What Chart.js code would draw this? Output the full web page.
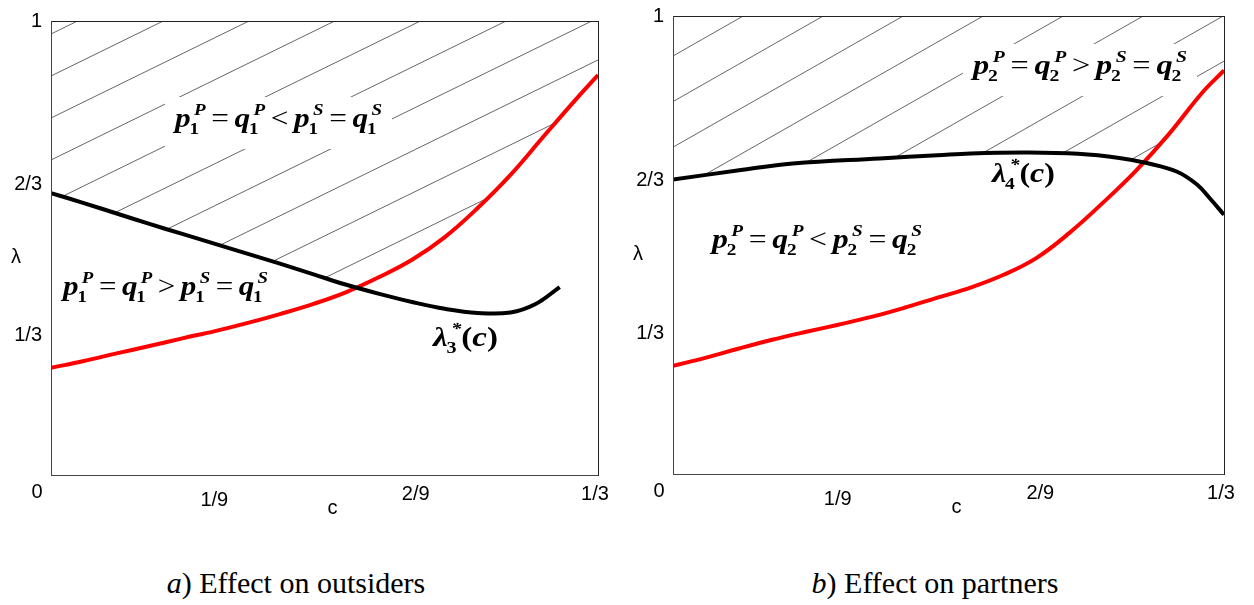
<!DOCTYPE html>
<html>
<head>
<meta charset="utf-8">
<script src="https://cdn.jsdelivr.net/npm/chart.js@4.4.1/dist/chart.umd.min.js"></script>
<style>
  body { margin: 0; background: #fff; width: 1254px; height: 605px; position: relative; overflow: hidden; }
  canvas { position: absolute; top: 0; }
  #chartA { left: 0; }
  #chartB { left: 627px; }
  .caption { position: absolute; top: 566px; font-family: "Liberation Serif", serif; font-size: 30px; color: #000; white-space: nowrap; transform: translateX(-50%); }
</style>
</head>
<body>
<canvas id="chartA" width="627" height="540"></canvas>
<canvas id="chartB" width="627" height="540"></canvas>
<div class="caption" style="left:296px"><i>a</i>) Effect on outsiders</div>
<div class="caption" style="left:935px"><i>b</i>) Effect on partners</div>

<script>
// ticks
const xTicks = [0, 1/9, 2/9, 1/3];
const xTickLabels = ["0", "1/9", "2/9", "1/3"];
const yTicks = [1/3, 2/3, 1];
const yTickLabels = ["1/3", "2/3", "1"];

// a) outsiders
const cRedA = [0, 0.02, 0.04, 0.06, 0.08, 0.10, 0.12, 0.14, 0.16, 0.18, 0.20, 0.22, 0.24, 0.26, 0.28, 0.30, 0.32, 1/3];
const redA = [0.236, 0.251, 0.268, 0.284, 0.301, 0.317, 0.335, 0.355, 0.377, 0.403, 0.436, 0.474, 0.524, 0.588, 0.661, 0.745, 0.828, 0.881];
const cBlackA = [0, 0.02, 0.04, 0.06, 0.08, 0.10, 0.12, 0.14, 0.16, 0.18, 0.20, 0.22, 0.24, 0.26, 0.28, 0.295, 0.31];
const blackA = [0.621, 0.599, 0.576, 0.553, 0.531, 0.509, 0.487, 0.465, 0.442, 0.419, 0.399, 0.381, 0.366, 0.357, 0.358, 0.376, 0.414];

// b) partners
const cRedB = [0, 0.02, 0.04, 0.06, 0.08, 0.10, 0.12, 0.14, 0.16, 0.18, 0.20, 0.22, 0.24, 0.26, 0.28, 0.30, 0.32, 1/3];
const redB = [0.236, 0.254, 0.274, 0.293, 0.310, 0.326, 0.343, 0.363, 0.385, 0.407, 0.435, 0.472, 0.527, 0.592, 0.662, 0.742, 0.832, 0.881];
const cBlackB = [0, 0.04, 0.0725, 0.125, 0.16, 0.18, 0.215, 0.245, 0.27, 0.2865, 0.305, 0.317, 0.325, 1/3];
const blackB = [0.643, 0.663, 0.678, 0.689, 0.696, 0.700, 0.702, 0.699, 0.690, 0.679, 0.660, 0.632, 0.601, 0.566];

const toXY = (xs, ys) => xs.map((x, i) => ({ x, y: ys[i] }));

// fonts for the formulas
const BASE_FONT = 'bold italic 28px "Liberation Serif"';
const UP_FONT = 'bold 28px "Liberation Serif"';
const SUB_FONT = 'bold 17px "Liberation Serif"';
const SUP_FONT = 'bold italic 17px "Liberation Serif"';
const OP_FONT = '28px "Liberation Serif"';
const TICK_FONT = '20px "Liberation Sans"';

function sym(v, i, s) { return { b: v, sub: i, sup: s }; }
function formula(i, rel) {
  return [sym("p", i, "P"), { op: "=" }, sym("q", i, "P"), { op: rel }, sym("p", i, "S"), { op: "=" }, sym("q", i, "S")];
}
function lambdaStar(i) {
  return [sym("λ", i, "*"), { b: "(", up: true }, { b: "c" }, { b: ")", up: true }];
}

function layoutMath(ctx, parts, draw) {
  let cx = 0;
  for (const p of parts) {
    if (p.op) {
      ctx.font = OP_FONT;
      cx += 5;
      if (draw) ctx.fillText(p.op, cx, 0);
      cx += ctx.measureText(p.op).width + 5;
      continue;
    }
    ctx.font = p.up ? UP_FONT : BASE_FONT;
    if (draw) ctx.fillText(p.b, cx, 0);
    cx += ctx.measureText(p.b).width;
    let extra = 0;
    if (p.sub) {
      ctx.font = SUB_FONT;
      if (draw) ctx.fillText(p.sub, cx - 1, 7);
      extra = Math.max(extra, ctx.measureText(p.sub).width - 1);
    }
    if (p.sup) {
      ctx.font = SUP_FONT;
      if (draw) ctx.fillText(p.sup, cx + 3, -12);
      extra = Math.max(extra, ctx.measureText(p.sup).width + 3);
    }
    cx += extra;
  }
  return cx;
}

function drawMath(ctx, parts, x, y, width) {
  ctx.save();
  const natural = layoutMath(ctx, parts, false);
  ctx.translate(x, y);
  ctx.scale(width / natural, 1);
  ctx.fillStyle = "#000";
  ctx.textBaseline = "alphabetic";
  ctx.textAlign = "left";
  layoutMath(ctx, parts, true);
  ctx.restore();
}

// hatching of the upper region + white gaps behind the labels
const hatchPlugin = {
  id: "hatch",
  beforeDraw(chart, args, opts) {
    const { ctx, chartArea: a } = chart;
    const w = a.right - a.left;
    ctx.save();
    ctx.beginPath();
    ctx.rect(a.left, a.top, w, a.bottom - a.top);
    ctx.clip();
    ctx.strokeStyle = "#666";
    ctx.lineWidth = 1;
    ctx.beginPath();
    for (let y = a.top + opts.first - 2 * opts.gap; y < a.bottom + w * opts.slope; y += opts.gap) {
      ctx.moveTo(a.left, y);
      ctx.lineTo(a.right, y - w * opts.slope);
    }
    ctx.stroke();
    ctx.fillStyle = "#fff";
    for (const n of opts.notes) {
      if (!n.box) continue;
      ctx.fillRect(a.left + n.dx - 10, a.top + n.dy - 30, n.width + 20, 52);
    }
    ctx.restore();
  }
};

// tick labels, axis names, formulas
const textPlugin = {
  id: "texts",
  afterDatasetsDraw(chart, args, opts) {
    const { ctx, chartArea: a, scales } = chart;
    ctx.save();
    ctx.fillStyle = "#000";
    ctx.font = TICK_FONT;
    ctx.textBaseline = "middle";
    // nudges as placed in the original figure
    const xNudge = [[-14, 17], [-19, 25], [0, 19], [-3, 19]];
    const yNudge = [12, 12, 0];
    ctx.textAlign = "center";
    xTicks.forEach((v, i) => {
      ctx.fillText(xTickLabels[i], scales.x.getPixelForValue(v) + xNudge[i][0], a.bottom + xNudge[i][1]);
    });
    ctx.textAlign = "right";
    yTicks.forEach((v, i) => {
      ctx.fillText(yTickLabels[i], a.left - 9, scales.y.getPixelForValue(v) + yNudge[i]);
    });
    ctx.textAlign = "center";
    ctx.fillText("λ", a.left - 35, scales.y.getPixelForValue(0.48));
    ctx.fillText("c", (a.left + a.right) / 2 + 8, a.bottom + 33);
    for (const n of opts.notes) {
      drawMath(ctx, n.parts, a.left + n.dx, a.top + n.dy, n.width);
    }
    ctx.restore();
  }
};

function makeChart(id, red, black, padding, hatch, notes) {
  const border = { display: true, color: "#444", width: 1, z: 1 };
  const dashed = { display: true, color: "#222", width: 1, dash: [4, 3], z: 1 };
  const hidden = { display: false, drawTicks: false };
  return new Chart(document.getElementById(id), {
    type: "line",
    data: {
      datasets: [
        {
          data: black,
          borderColor: "#000",
          borderWidth: 4,
          backgroundColor: "#fff",
          fill: "start",
          pointRadius: 0,
          tension: 0.4
        },
        {
          data: red,
          borderColor: "#ff0000",
          borderWidth: 4,
          backgroundColor: "#fff",
          fill: "start",
          pointRadius: 0,
          tension: 0.4
        }
      ]
    },
    options: {
      responsive: false,
      animation: false,
      layout: { padding },
      plugins: {
        legend: { display: false },
        tooltip: { enabled: false },
        filler: { drawTime: "beforeDatasetsDraw" },
        hatch: { ...hatch, notes },
        texts: { notes }
      },
      scales: {
        x: { type: "linear", position: "bottom", min: 0, max: 1/3, grid: hidden, ticks: { display: false }, border },
        x2: { type: "linear", position: "top", min: 0, max: 1/3, grid: hidden, ticks: { display: false }, border: dashed },
        y: { type: "linear", position: "left", min: 0, max: 1, grid: hidden, ticks: { display: false }, border },
        y2: { type: "linear", position: "right", min: 0, max: 1, grid: hidden, ticks: { display: false }, border: dashed }
      }
    },
    plugins: [hatchPlugin, textPlugin]
  });
}

makeChart(
  "chartA",
  toXY(cRedA, redA),
  toXY(cBlackA, blackA),
  { left: 51, top: 21, right: 29, bottom: 65 },
  { slope: 0.49, gap: 42, first: 55 },
  [
    { parts: formula("1", "<"), dx: 124, dy: 106, width: 207, box: true },
    { parts: formula("1", ">"), dx: 12, dy: 274, width: 205 },
    { parts: lambdaStar("3"), dx: 382, dy: 325, width: 65 }
  ]
);

makeChart(
  "chartB",
  toXY(cRedB, redB),
  toXY(cBlackB, blackB),
  { left: 46, top: 16, right: 30, bottom: 66 },
  { slope: 0.57, gap: 45.6, first: 40 },
  [
    { parts: formula("2", ">"), dx: 300, dy: 58, width: 214, box: true },
    { parts: formula("2", "<"), dx: 39, dy: 232, width: 210 },
    { parts: lambdaStar("4"), dx: 319, dy: 166, width: 63 }
  ]
);
</script>
</body>
</html>
